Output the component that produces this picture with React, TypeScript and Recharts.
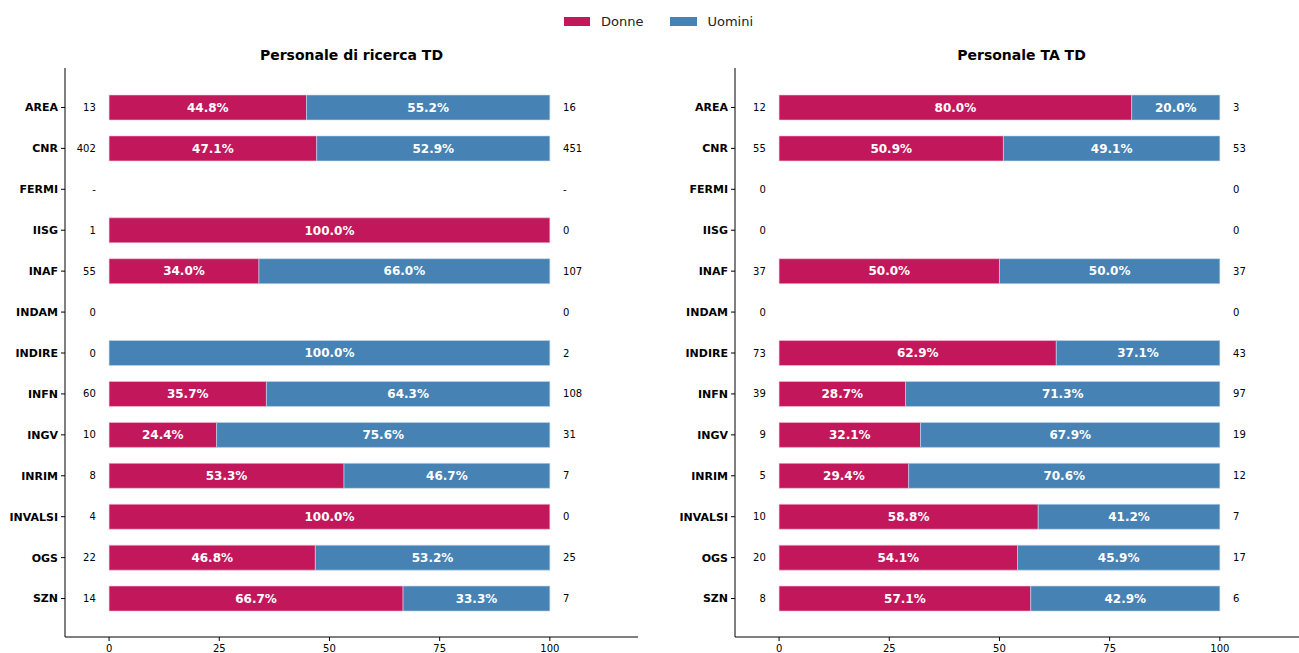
import { BarChart, Bar, XAxis, YAxis, LabelList, ReferenceDot } from 'recharts'

const enti = ['AREA', 'CNR', 'FERMI', 'IISG', 'INAF', 'INDAM', 'INDIRE', 'INFN', 'INGV', 'INRIM', 'INVALSI', 'OGS', 'SZN']

// Personale di ricerca TD
const ricercaDonnePct = [44.8, 47.1, null, 100.0, 34.0, 0, 0, 35.7, 24.4, 53.3, 100.0, 46.8, 66.7]
const ricercaUominiPct = [55.2, 52.9, null, 0, 66.0, 0, 100.0, 64.3, 75.6, 46.7, 0, 53.2, 33.3]
const ricercaDonne = ['13', '402', '-', '1', '55', '0', '0', '60', '10', '8', '4', '22', '14']
const ricercaUomini = ['16', '451', '-', '0', '107', '0', '2', '108', '31', '7', '0', '25', '7']

// Personale TA TD
const taDonnePct = [80.0, 50.9, 0, 0, 50.0, 0, 62.9, 28.7, 32.1, 29.4, 58.8, 54.1, 57.1]
const taUominiPct = [20.0, 49.1, 0, 0, 50.0, 0, 37.1, 71.3, 67.9, 70.6, 41.2, 45.9, 42.9]
const taDonne = ['12', '55', '0', '0', '37', '0', '73', '39', '9', '5', '10', '20', '8']
const taUomini = ['3', '53', '0', '0', '37', '0', '43', '97', '19', '12', '7', '17', '6']

const xTicks = [0, 25, 50, 75, 100]

const DONNE = '#c2185b'
const UOMINI = '#4682b4'
const FONT = '"DejaVu Sans", sans-serif'

const pctLabel = (v: any) => (v ? `${Number(v).toFixed(1)}%` : '')

interface PanelProps {
    title: string,
    donnePct: (number | null)[],
    uominiPct: (number | null)[],
    donne: string[],
    uomini: string[],
    left: number,
}

const Panel = (props: PanelProps) => {
    const data = enti.map((name, i) => ({
        name,
        donne: props.donnePct[i],
        uomini: props.uominiPct[i],
    }))
    return (
        <div style={{ position: 'absolute', left: props.left, top: 0, width: 650, height: 653 }}>
            <div style={{
                position: 'absolute', left: 65, width: 573, top: 47, textAlign: 'center',
                fontFamily: FONT, fontWeight: 'bold', fontSize: 14, lineHeight: '16px', color: '#000',
            }}>
                {props.title}
            </div>
            <BarChart width={650} height={653} data={data} layout="vertical"
                margin={{ top: 68, right: 12, bottom: 0, left: 0 }} barSize={25}>
                <XAxis type="number" domain={[-10, 120]} ticks={xTicks} allowDataOverflow
                    height={16} tickSize={4} tickMargin={4} interval={0}
                    axisLine={{ stroke: '#000' }} tickLine={{ stroke: '#000' }}
                    tick={{ fill: '#000', fontSize: 10, fontFamily: FONT }} />
                <YAxis type="category" dataKey="name" width={65} interval={0}
                    padding={{ top: 19, bottom: 18 }} tickSize={4} tickMargin={3}
                    axisLine={{ stroke: '#000' }} tickLine={{ stroke: '#000' }}
                    tick={{ fill: '#000', fontSize: 11, fontWeight: 'bold', fontFamily: FONT }} />
                <Bar dataKey="donne" stackId="a" fill={DONNE} stroke="#f3c4d6" strokeWidth={0.6} isAnimationActive={false}>
                    <LabelList dataKey="donne" position="center" formatter={pctLabel}
                        fill="#fff" fontSize={12} fontWeight="bold" fontFamily={FONT} />
                </Bar>
                <Bar dataKey="uomini" stackId="a" fill={UOMINI} stroke="#c6d8ea" strokeWidth={0.6} isAnimationActive={false}>
                    <LabelList dataKey="uomini" position="center" formatter={pctLabel}
                        fill="#fff" fontSize={12} fontWeight="bold" fontFamily={FONT} />
                </Bar>
                {enti.map((name, i) => (
                    <ReferenceDot key={`l-${name}`} x={-3} y={name} r={0} fill="none" stroke="none"
                        label={{ value: props.donne[i], position: 'left', offset: 0, fill: '#000', fontSize: 10, fontFamily: FONT }} />
                ))}
                {enti.map((name, i) => (
                    <ReferenceDot key={`r-${name}`} x={103} y={name} r={0} fill="none" stroke="none"
                        label={{ value: props.uomini[i], position: 'right', offset: 0, fill: '#000', fontSize: 10, fontFamily: FONT }} />
                ))}
            </BarChart>
        </div>
    )
}

const Legend = () => (
    <div style={{ position: 'absolute', top: 14, left: 564, display: 'flex', alignItems: 'center', fontFamily: FONT, fontSize: 13, color: '#222' }}>
        <span style={{ width: 26, height: 9, background: DONNE, display: 'inline-block' }} />
        <span style={{ marginLeft: 11 }}>Donne</span>
        <span style={{ width: 27, height: 9, background: UOMINI, display: 'inline-block', marginLeft: 27 }} />
        <span style={{ marginLeft: 10 }}>Uomini</span>
    </div>
)

export default function App() {
    return (
        <div style={{ position: 'absolute', left: 0, top: 0, width: 1299, height: 653, overflow: 'hidden', background: '#fff' }}>
            <Legend />
            <Panel title="Personale di ricerca TD" donnePct={ricercaDonnePct} uominiPct={ricercaUominiPct}
                donne={ricercaDonne} uomini={ricercaUomini} left={0} />
            <Panel title="Personale TA TD" donnePct={taDonnePct} uominiPct={taUominiPct}
                donne={taDonne} uomini={taUomini} left={670} />
        </div>
    )
}
